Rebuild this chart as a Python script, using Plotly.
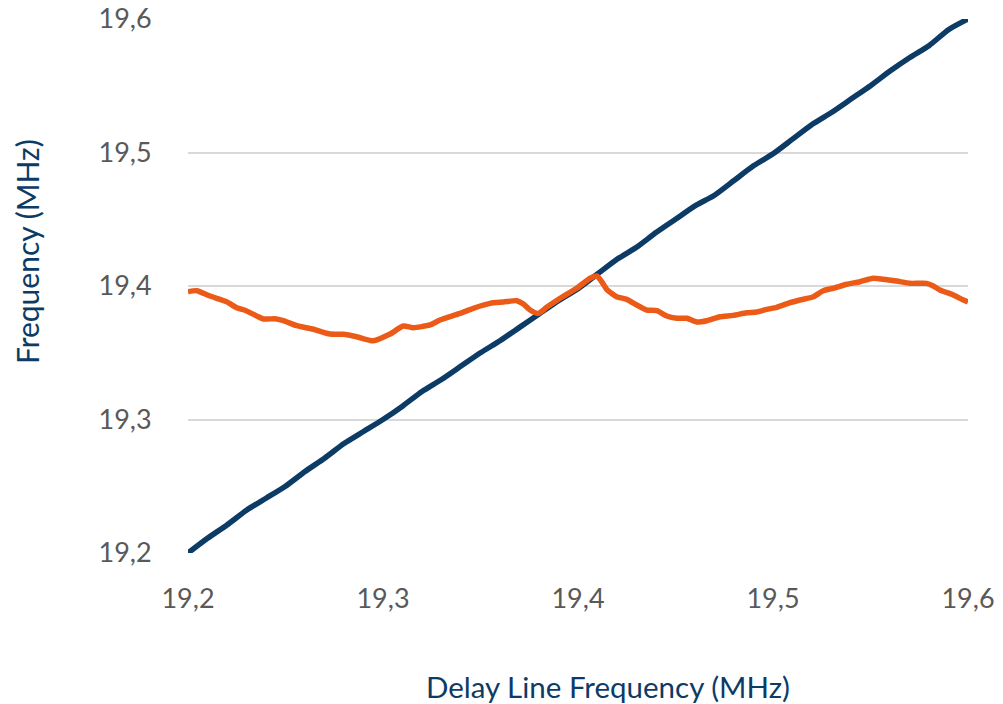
import plotly.graph_objects as go

# Reference (delay line) frequency vs. measured output frequency, MHz
delay_x = [19.20, 19.21, 19.22, 19.23, 19.24, 19.25, 19.26, 19.27, 19.28, 19.29,
           19.30, 19.31, 19.32, 19.33, 19.34, 19.35, 19.36, 19.37, 19.38, 19.39,
           19.40, 19.41, 19.42, 19.43, 19.44, 19.45, 19.46, 19.47, 19.48, 19.49,
           19.50, 19.51, 19.52, 19.53, 19.54, 19.55, 19.56, 19.57, 19.58, 19.59,
           19.60]
delay_y = [19.200, 19.211, 19.221, 19.232, 19.241, 19.250, 19.261, 19.271, 19.282, 19.291,
           19.300, 19.310, 19.321, 19.330, 19.340, 19.350, 19.359, 19.369, 19.379, 19.389,
           19.398, 19.409, 19.420, 19.429, 19.440, 19.450, 19.460, 19.468, 19.479, 19.490,
           19.499, 19.510, 19.521, 19.530, 19.540, 19.550, 19.561, 19.571, 19.580, 19.592,
           19.600]

osc_x = [19.2000, 19.2045, 19.2113, 19.2198, 19.2250, 19.2301, 19.2386, 19.2446, 19.2489,
         19.2557, 19.2643, 19.2728, 19.2796, 19.2865, 19.2950, 19.3036, 19.3104, 19.3155,
         19.3241, 19.3292, 19.3395, 19.3463, 19.3549, 19.3617, 19.3686, 19.3720, 19.3754,
         19.3796, 19.3839, 19.3908, 19.3993, 19.4062, 19.4096, 19.4122, 19.4147, 19.4198,
         19.4250, 19.4301, 19.4352, 19.4404, 19.4455, 19.4506, 19.4558, 19.4609, 19.4660,
         19.4728, 19.4796, 19.4865, 19.4916, 19.4968, 19.5019, 19.5087, 19.5138, 19.5207,
         19.5258, 19.5309, 19.5378, 19.5446, 19.5514, 19.5566, 19.5634, 19.5703, 19.5788,
         19.5822, 19.5856, 19.5925, 19.5976, 19.6000]
osc_y = [19.3957, 19.3965, 19.3925, 19.3882, 19.3837, 19.3813, 19.3753, 19.3755, 19.3740,
         19.3703, 19.3676, 19.3640, 19.3638, 19.3620, 19.3590, 19.3640, 19.3700, 19.3688,
         19.3708, 19.3745, 19.3795, 19.3833, 19.3870, 19.3880, 19.3890, 19.3865, 19.3820,
         19.3795, 19.3840, 19.3908, 19.3983, 19.4058, 19.4075, 19.4032, 19.3975, 19.3920,
         19.3900, 19.3858, 19.3820, 19.3815, 19.3775, 19.3758, 19.3758, 19.3730, 19.3740,
         19.3770, 19.3780, 19.3800, 19.3805, 19.3825, 19.3840, 19.3875, 19.3895, 19.3920,
         19.3965, 19.3983, 19.4013, 19.4032, 19.4058, 19.4050, 19.4037, 19.4020, 19.4020,
         19.4000, 19.3970, 19.3933, 19.3895, 19.3880]

tick_vals = [19.2, 19.3, 19.4, 19.5, 19.6]
tick_text = ["19,2", "19,3", "19,4", "19,5", "19,6"]

NAVY = "#0c3b66"
ORANGE = "#eb5a17"
TICK_GRAY = "#595959"
FONT = "Lato, Open Sans, sans-serif"

fig = go.Figure()
fig.add_trace(go.Scatter(x=delay_x, y=delay_y, mode="lines",
                         line=dict(color=NAVY, width=5.5, shape="spline", smoothing=0.6),
                         showlegend=False, hoverinfo="skip", cliponaxis=False))
fig.add_trace(go.Scatter(x=osc_x, y=osc_y, mode="lines",
                         line=dict(color=ORANGE, width=5.5, shape="spline", smoothing=0.6),
                         showlegend=False, hoverinfo="skip", cliponaxis=False))

fig.update_layout(
    width=1003, height=704,
    margin=dict(l=188, r=35, t=19, b=151),
    paper_bgcolor="white", plot_bgcolor="white",
    font=dict(family=FONT, color=TICK_GRAY),
    separators=",.",
    xaxis=dict(range=[19.2, 19.6], tickvals=tick_vals, ticktext=tick_text,
               showgrid=False, zeroline=False, showline=False, automargin=False,
               ticks="outside", ticklen=22, tickcolor="rgba(0,0,0,0)",
               tickfont=dict(size=27, color=TICK_GRAY, family=FONT)),
    yaxis=dict(range=[19.2, 19.6], tickvals=tick_vals, ticktext=tick_text,
               showgrid=True, gridcolor="#d9d9d9", gridwidth=1.5,
               zeroline=False, showline=False, automargin=False,
               ticks="outside", ticklen=30, tickcolor="rgba(0,0,0,0)",
               tickfont=dict(size=27, color=TICK_GRAY, family=FONT)),
    annotations=[
        dict(text="Delay Line Frequency (MHz)", xref="paper", yref="paper",
             x=(608 - 188) / 780, y=-(686 - 553) / 534, xanchor="center", yanchor="middle",
             showarrow=False, font=dict(size=29.5, color=NAVY, family=FONT)),
        dict(text="Frequency (MHz)", xref="paper", yref="paper",
             x=-(188 - 27) / 780, y=(553 - 252) / 534, xanchor="center", yanchor="middle",
             textangle=-90, showarrow=False, font=dict(size=30, color=NAVY, family=FONT)),
    ],
)

fig.write_html("out.html")
